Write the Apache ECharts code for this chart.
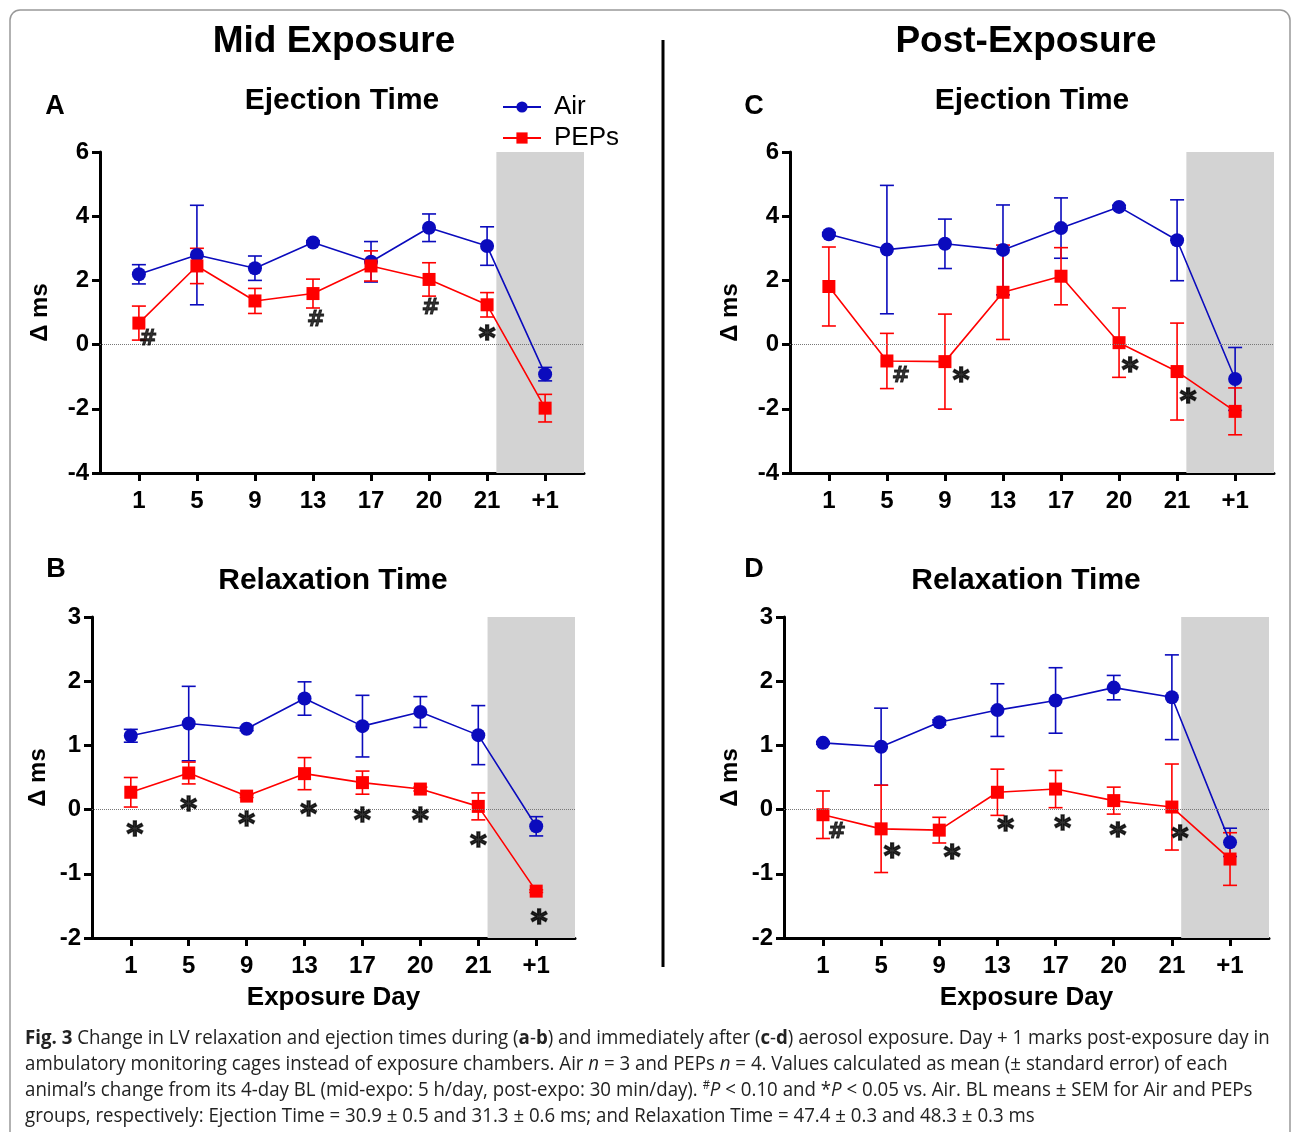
<!DOCTYPE html>
<html>
<head>
<meta charset="utf-8">
<script src="https://cdn.jsdelivr.net/npm/echarts@6/dist/echarts.min.js"></script>
<style>
  body { margin: 0; background: #fff; }
  #root { width: 1293px; height: 1132px; }
</style>
</head>
<body>
<div id="root"></div>
<script>
const days = ["1", "5", "9", "13", "17", "20", "21", "+1"];

// A: ejection time, mid exposure
const airEjMid = [2.19, 2.79, 2.38, 3.18, 2.58, 3.64, 3.07, -0.92];
const airEjMidSem = [0.3, 1.55, 0.38, 0.05, 0.63, 0.43, 0.6, 0.21];
const pepEjMid = [0.67, 2.45, 1.36, 1.59, 2.45, 2.03, 1.24, -1.98];
const pepEjMidSem = [0.53, 0.55, 0.39, 0.45, 0.47, 0.52, 0.38, 0.43];

// C: ejection time, post exposure
const airEjPost = [3.44, 2.96, 3.14, 2.95, 3.63, 4.29, 3.25, -1.07];
const airEjPostSem = [0.05, 2.0, 0.77, 1.4, 0.94, 0.05, 1.26, 0.98];
const pepEjPost = [1.81, -0.51, -0.53, 1.63, 2.13, 0.06, -0.84, -2.08];
const pepEjPostSem = [1.23, 0.86, 1.48, 1.47, 0.89, 1.08, 1.51, 0.73];

// B: relaxation time, mid exposure
const airRelMid = [1.15, 1.34, 1.26, 1.73, 1.3, 1.52, 1.16, -0.26];
const airRelMidSem = [0.1, 0.58, 0.03, 0.26, 0.48, 0.24, 0.46, 0.15];
const pepRelMid = [0.27, 0.57, 0.21, 0.56, 0.42, 0.32, 0.05, -1.27];
const pepRelMidSem = [0.23, 0.17, 0.02, 0.25, 0.18, 0.03, 0.21, 0.02];

// D: relaxation time, post exposure
const airRelPost = [1.04, 0.98, 1.36, 1.55, 1.7, 1.9, 1.75, -0.51];
const airRelPostSem = [0.02, 0.6, 0.04, 0.41, 0.51, 0.19, 0.66, 0.22];
const pepRelPost = [-0.08, -0.3, -0.32, 0.27, 0.32, 0.14, 0.04, -0.77];
const pepRelPostSem = [0.37, 0.68, 0.2, 0.36, 0.29, 0.21, 0.67, 0.41];

// significance marks [x, y, text]
const sigA = [[0.16, 0.16, "#"], [3.05, 0.75, "#"], [5.03, 1.12, "#"], [6.0, 0.47, "*"]];
const sigC = [[1.24, -1.0, "#"], [2.28, -0.84, "*"], [5.19, -0.53, "*"], [6.19, -1.5, "*"]];
const sigB = [[0.07, -0.25, "*"], [1, 0.14, "*"], [2, -0.09, "*"], [3.07, 0.06, "*"], [4, -0.03, "*"], [5, -0.03, "*"], [6, -0.42, "*"], [7.05, -1.62, "*"]];
const sigD = [[0.24, -0.36, "#"], [1.19, -0.59, "*"], [2.22, -0.61, "*"], [3.14, -0.17, "*"], [4.12, -0.16, "*"], [5.07, -0.26, "*"], [6.14, -0.31, "*"]];

const BLUE = "#0b0bbd";
const RED = "#ff0000";
const FONT = "'Liberation Sans', Arial, sans-serif";
const MARK_FONT = "'DejaVu Sans', sans-serif";
const X_MIN = -0.67, X_MAX = 7.67, BAND = 6.16;

const grids = [], xAxes = [], yAxes = [], series = [];

function errSeries(gi, mean, sem, color) {
  return {
    type: "custom",
    xAxisIndex: gi, yAxisIndex: gi, z: 3, silent: true,
    data: mean.map((m, i) => [i, m - sem[i], m + sem[i]]),
    encode: { x: 0, y: [1, 2] },
    renderItem: (params, api) => {
      const x = api.value(0);
      const top = api.coord([x, api.value(2)]);
      const bot = api.coord([x, api.value(1)]);
      const st = { stroke: color, lineWidth: 1.6 };
      const w = 7;
      return {
        type: "group",
        children: [
          { type: "line", shape: { x1: top[0], y1: top[1], x2: bot[0], y2: bot[1] }, style: st },
          { type: "line", shape: { x1: top[0] - w, y1: top[1], x2: top[0] + w, y2: top[1] }, style: st },
          { type: "line", shape: { x1: bot[0] - w, y1: bot[1], x2: bot[0] + w, y2: bot[1] }, style: st },
        ],
      };
    },
  };
}

function panel(gi, box, yMin, yMax, yStep, air, airSem, pep, pepSem, sig, nameGap, xName) {
  grids.push({ left: box[0], top: box[1], width: box[2], height: box[3] });
  xAxes.push({
    gridIndex: gi, type: "value", min: X_MIN, max: X_MAX,
    splitLine: { show: false },
    axisLine: { onZero: false, lineStyle: { color: "#000", width: 3 } },
    axisTick: { length: 8, lineStyle: { width: 3, color: "#000" }, customValues: [0, 1, 2, 3, 4, 5, 6, 7] },
    axisLabel: {
      customValues: [0, 1, 2, 3, 4, 5, 6, 7], formatter: (v) => days[Math.round(v)],
      color: "#000", fontWeight: "bold", fontSize: 24, fontFamily: FONT, margin: 16,
    },
    name: xName || "", nameLocation: "middle", nameGap: 47,
    nameTextStyle: { color: "#000", fontWeight: "bold", fontSize: 26, fontFamily: FONT },
  });
  yAxes.push({
    gridIndex: gi, type: "value", min: yMin, max: yMax, interval: yStep,
    splitLine: { show: false },
    axisLine: { show: true, onZero: false, lineStyle: { color: "#000", width: 3 } },
    axisTick: { show: true, length: 8, lineStyle: { width: 3, color: "#000" } },
    axisLabel: { color: "#000", fontWeight: "bold", fontSize: 24, fontFamily: FONT, margin: 11 },
    name: "Δ ms", nameLocation: "middle", nameGap: nameGap, nameRotate: 90,
    nameTextStyle: { color: "#000", fontWeight: "bold", fontSize: 24, fontFamily: FONT },
  });
  series.push({
    type: "line", xAxisIndex: gi, yAxisIndex: gi, data: [], z: 1, silent: true,
    markArea: {
      silent: true, itemStyle: { color: "#d3d3d3" },
      data: [[{ xAxis: BAND, yAxis: yMin }, { xAxis: X_MAX, yAxis: yMax }]],
    },
    markLine: {
      silent: true, symbol: "none", label: { show: false },
      lineStyle: { type: "dotted", color: "#777", width: 1 },
      data: [{ yAxis: 0 }],
    },
  });
  series.push(errSeries(gi, air, airSem, BLUE));
  series.push(errSeries(gi, pep, pepSem, RED));
  series.push({
    name: "Air", type: "line", xAxisIndex: gi, yAxisIndex: gi, z: 4,
    data: air.map((v, i) => [i, v]),
    symbol: "circle", symbolSize: 14, color: BLUE,
    lineStyle: { width: 1.6, color: BLUE }, itemStyle: { color: BLUE },
  });
  series.push({
    name: "PEPs", type: "line", xAxisIndex: gi, yAxisIndex: gi, z: 4,
    data: pep.map((v, i) => [i, v]),
    symbol: "rect", symbolSize: 13, color: RED,
    lineStyle: { width: 1.6, color: RED }, itemStyle: { color: RED },
  });
  series.push({
    type: "scatter", xAxisIndex: gi, yAxisIndex: gi, z: 5, silent: true,
    data: sig, symbolSize: 1, itemStyle: { color: "rgba(0,0,0,0)" },
    label: {
      show: true, position: "inside", color: "#000",
      formatter: (p) => (p.data[2] === "*" ? "{s|*}" : "{h|#}"),
      rich: {
        s: { fontSize: 32, fontWeight: "bold", fontFamily: MARK_FONT, color: "#000", textBorderColor: "#000", textBorderWidth: 1.6, padding: [20, 0, 0, 0] },
        h: { fontSize: 22, fontWeight: "bold", fontFamily: MARK_FONT, color: "#000", textBorderColor: "#000", textBorderWidth: 0.8 },
      },
    },
  });
}

panel(0, [100, 152, 484, 321], -4, 6, 2, airEjMid, airEjMidSem, pepEjMid, pepEjMidSem, sigA, 48);
panel(1, [790, 152, 484, 321], -4, 6, 2, airEjPost, airEjPostSem, pepEjPost, pepEjPostSem, sigC, 48);
panel(2, [92, 617, 483, 321], -2, 3, 1, airRelMid, airRelMidSem, pepRelMid, pepRelMidSem, sigB, 42, "Exposure Day");
panel(3, [784, 617, 485, 321], -2, 3, 1, airRelPost, airRelPostSem, pepRelPost, pepRelPostSem, sigD, 42, "Exposure Day");

function txt(x, y, text, size, weight) {
  return {
    type: "text", x: x, y: y, z: 10,
    style: { text: text, fill: "#000", fontSize: size, fontWeight: weight || "bold", fontFamily: FONT, align: "center", verticalAlign: "middle" },
  };
}

const CAP_FONT = "'Open Sans', sans-serif";
const captionLines = [
  "{b|Fig. 3} Change in LV relaxation and ejection times during ({b|a}-{b|b}) and immediately after ({b|c}-{b|d}) aerosol exposure. Day + 1 marks post-exposure day in",
  "ambulatory monitoring cages instead of exposure chambers. Air {i|n} = 3 and PEPs {i|n} = 4. Values calculated as mean (± standard error) of each",
  "animal’s change from its 4-day BL (mid-expo: 5 h/day, post-expo: 30 min/day). {sup|#}{i|P} < 0.10 and *{i|P} < 0.05 vs. Air. BL means ± SEM for Air and PEPs",
  "groups, respectively: Ejection Time = 30.9 ± 0.5 and 31.3 ± 0.6 ms; and Relaxation Time = 47.4 ± 0.3 and 48.3 ± 0.3 ms",
];

const graphics = [
  { type: "rect", shape: { x: 10, y: 10, width: 1280, height: 1150, r: 10 }, style: { fill: "none", stroke: "#999", lineWidth: 1.5 }, z: 0 },
  { type: "line", shape: { x1: 663, y1: 40, x2: 663, y2: 967 }, style: { stroke: "#000", lineWidth: 3 }, z: 10 },
  txt(334, 42, "Mid Exposure", 37),
  txt(1026, 42, "Post-Exposure", 37),
  txt(342, 101, "Ejection Time", 30),
  txt(1032, 101, "Ejection Time", 30),
  txt(333, 581, "Relaxation Time", 30),
  txt(1026, 581, "Relaxation Time", 30),
  txt(55, 107, "A", 27),
  txt(56, 570, "B", 27),
  txt(754, 107, "C", 27),
  txt(754, 570, "D", 27),
];
captionLines.forEach((line, k) => {
  graphics.push({
    type: "text", x: 25, y: 1038 + k * 26, z: 10, scaleX: 0.934, originX: 0,
    style: {
      text: line, fill: "#222", fontSize: 20, fontFamily: CAP_FONT, verticalAlign: "middle",
      rich: {
        b: { fontWeight: "bold", fontSize: 20, fontFamily: CAP_FONT, fill: "#222" },
        i: { fontStyle: "italic", fontSize: 20, fontFamily: CAP_FONT, fill: "#222" },
        sup: { fontSize: 12, fontFamily: CAP_FONT, fill: "#222", padding: [0, 0, 8, 0] },
      },
    },
  });
});

const MyChart = echarts.init(document.getElementById("root"));
const option = {
  backgroundColor: "#fff",
  animation: false,
  legend: {
    data: ["Air", "PEPs"], orient: "vertical", left: 497, top: 89,
    itemWidth: 38, itemHeight: 14, itemGap: 5,
    textStyle: { color: "#000", fontSize: 26, fontFamily: FONT, padding: [0, 0, 0, 8] },
  },
  grid: grids,
  xAxis: xAxes,
  yAxis: yAxes,
  series: series,
  graphic: graphics,
};
MyChart.setOption(option);
</script>
</body>
</html>
